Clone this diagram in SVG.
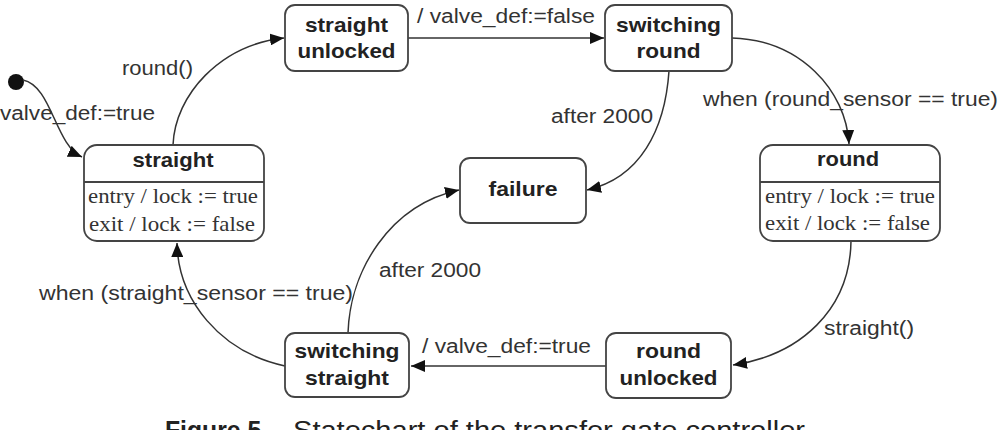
<svg xmlns="http://www.w3.org/2000/svg" width="1005" height="430" viewBox="0 0 1005 430">
<style>
.box{fill:#fff;stroke:#444;stroke-width:1.8}
.div{stroke:#444;stroke-width:1.8}
.edge{fill:none;stroke:#333;stroke-width:1.5}
.lbl{font-family:"Liberation Sans",Arial,sans-serif;font-size:20px;fill:#333}
.nm{font-family:"Liberation Sans",Arial,sans-serif;font-size:21px;font-weight:bold;fill:#222;text-anchor:middle}
.act{font-family:"Liberation Serif","Times New Roman",serif;font-size:21px;fill:#333}
.cap{font-family:"Liberation Sans",Arial,sans-serif;font-size:26px;fill:#222}
</style>
<defs>
<marker id="arr" markerUnits="userSpaceOnUse" markerWidth="15" markerHeight="12" refX="14" refY="6" orient="auto">
<path d="M0,0 L14,6 L0,12 z" fill="#111"/>
</marker>
</defs>
<rect width="1005" height="430" fill="#fff"/>

<g id="connectors">
<circle cx="16" cy="82" r="8" fill="#111"/>
<path class="edge" marker-end="url(#arr)" d="M23 80 C52 86,55 145,82 157"/>
<path class="edge" marker-end="url(#arr)" d="M173 145 C175 95,220 45,284 38"/>
<path class="edge" marker-end="url(#arr)" d="M408 38 L604 38"/>
<path class="edge" marker-end="url(#arr)" d="M732 38 C800 40,846 90,849 144"/>
<path class="edge" marker-end="url(#arr)" d="M669 71 C665 130,640 178,587 190"/>
<path class="edge" marker-end="url(#arr)" d="M348 333 C350 270,390 205,459 190"/>
<path class="edge" marker-end="url(#arr)" d="M285 366 C220 352,178 300,177 243"/>
<path class="edge" marker-end="url(#arr)" d="M606 366 L411 366"/>
<path class="edge" marker-end="url(#arr)" d="M851 241 C850 310,800 355,733 365"/>
<text class="lbl" x="417" y="23" textLength="178" lengthAdjust="spacingAndGlyphs">/ valve_def:=false</text>
<text class="lbl" x="703" y="106" textLength="295" lengthAdjust="spacingAndGlyphs">when (round_sensor == true)</text>
<text class="lbl" x="551" y="123" textLength="102" lengthAdjust="spacingAndGlyphs">after 2000</text>
<text class="lbl" x="122" y="75" textLength="71" lengthAdjust="spacingAndGlyphs">round()</text>
<text class="lbl" x="0" y="120" textLength="155" lengthAdjust="spacingAndGlyphs">valve_def:=true</text>
<text class="lbl" x="379" y="277" textLength="102" lengthAdjust="spacingAndGlyphs">after 2000</text>
<text class="lbl" x="39" y="300" textLength="314" lengthAdjust="spacingAndGlyphs">when (straight_sensor == true)</text>
<text class="lbl" x="422" y="353" textLength="169" lengthAdjust="spacingAndGlyphs">/ valve_def:=true</text>
<text class="lbl" x="824" y="335" textLength="90" lengthAdjust="spacingAndGlyphs">straight()</text>
</g>

<g id="straight_unlocked">
<rect class="box" x="285" y="5" width="123" height="66" rx="10"/>
<text class="nm" x="346.5" y="32" textLength="83" lengthAdjust="spacingAndGlyphs">straight</text>
<text class="nm" x="346.5" y="58" textLength="98" lengthAdjust="spacingAndGlyphs">unlocked</text>
</g>
<g id="switching_round">
<rect class="box" x="605" y="5" width="127" height="66" rx="10"/>
<text class="nm" x="668.5" y="32" textLength="105" lengthAdjust="spacingAndGlyphs">switching</text>
<text class="nm" x="668.5" y="58" textLength="64" lengthAdjust="spacingAndGlyphs">round</text>
</g>
<g id="failure">
<rect class="box" x="460" y="158" width="126" height="65" rx="10"/>
<text class="nm" x="523" y="196" textLength="69" lengthAdjust="spacingAndGlyphs">failure</text>
</g>
<g id="switching_straight">
<rect class="box" x="285" y="333" width="124" height="64" rx="10"/>
<text class="nm" x="347" y="358" textLength="105" lengthAdjust="spacingAndGlyphs">switching</text>
<text class="nm" x="347" y="385" textLength="84" lengthAdjust="spacingAndGlyphs">straight</text>
</g>
<g id="round_unlocked">
<rect class="box" x="606" y="333" width="125" height="65" rx="10"/>
<text class="nm" x="668.5" y="358" textLength="65" lengthAdjust="spacingAndGlyphs">round</text>
<text class="nm" x="668.5" y="385" textLength="98" lengthAdjust="spacingAndGlyphs">unlocked</text>
</g>
<g id="straight">
<rect class="box" x="84" y="145" width="180" height="96" rx="13"/>
<line class="div" x1="84" y1="182" x2="264" y2="182"/>
<text class="nm" x="173" y="167" textLength="81" lengthAdjust="spacingAndGlyphs">straight</text>
<text class="act" x="88" y="203" textLength="170" lengthAdjust="spacingAndGlyphs">entry / lock := true</text>
<text class="act" x="89" y="231" textLength="166" lengthAdjust="spacingAndGlyphs">exit / lock := false</text>
</g>
<g id="round">
<rect class="box" x="760" y="145" width="180" height="96" rx="13"/>
<line class="div" x1="760" y1="182" x2="940" y2="182"/>
<text class="nm" x="848" y="166" textLength="62" lengthAdjust="spacingAndGlyphs">round</text>
<text class="act" x="765" y="203" textLength="170" lengthAdjust="spacingAndGlyphs">entry / lock := true</text>
<text class="act" x="765" y="230" textLength="165" lengthAdjust="spacingAndGlyphs">exit / lock := false</text>
</g>
<g id="caption">
<text class="cap" x="165" y="439" font-weight="bold" textLength="103" lengthAdjust="spacingAndGlyphs">Figure 5.</text>
<text class="cap" x="293" y="439" textLength="512" lengthAdjust="spacingAndGlyphs">Statechart of the transfer gate controller</text>
</g>
</svg>
